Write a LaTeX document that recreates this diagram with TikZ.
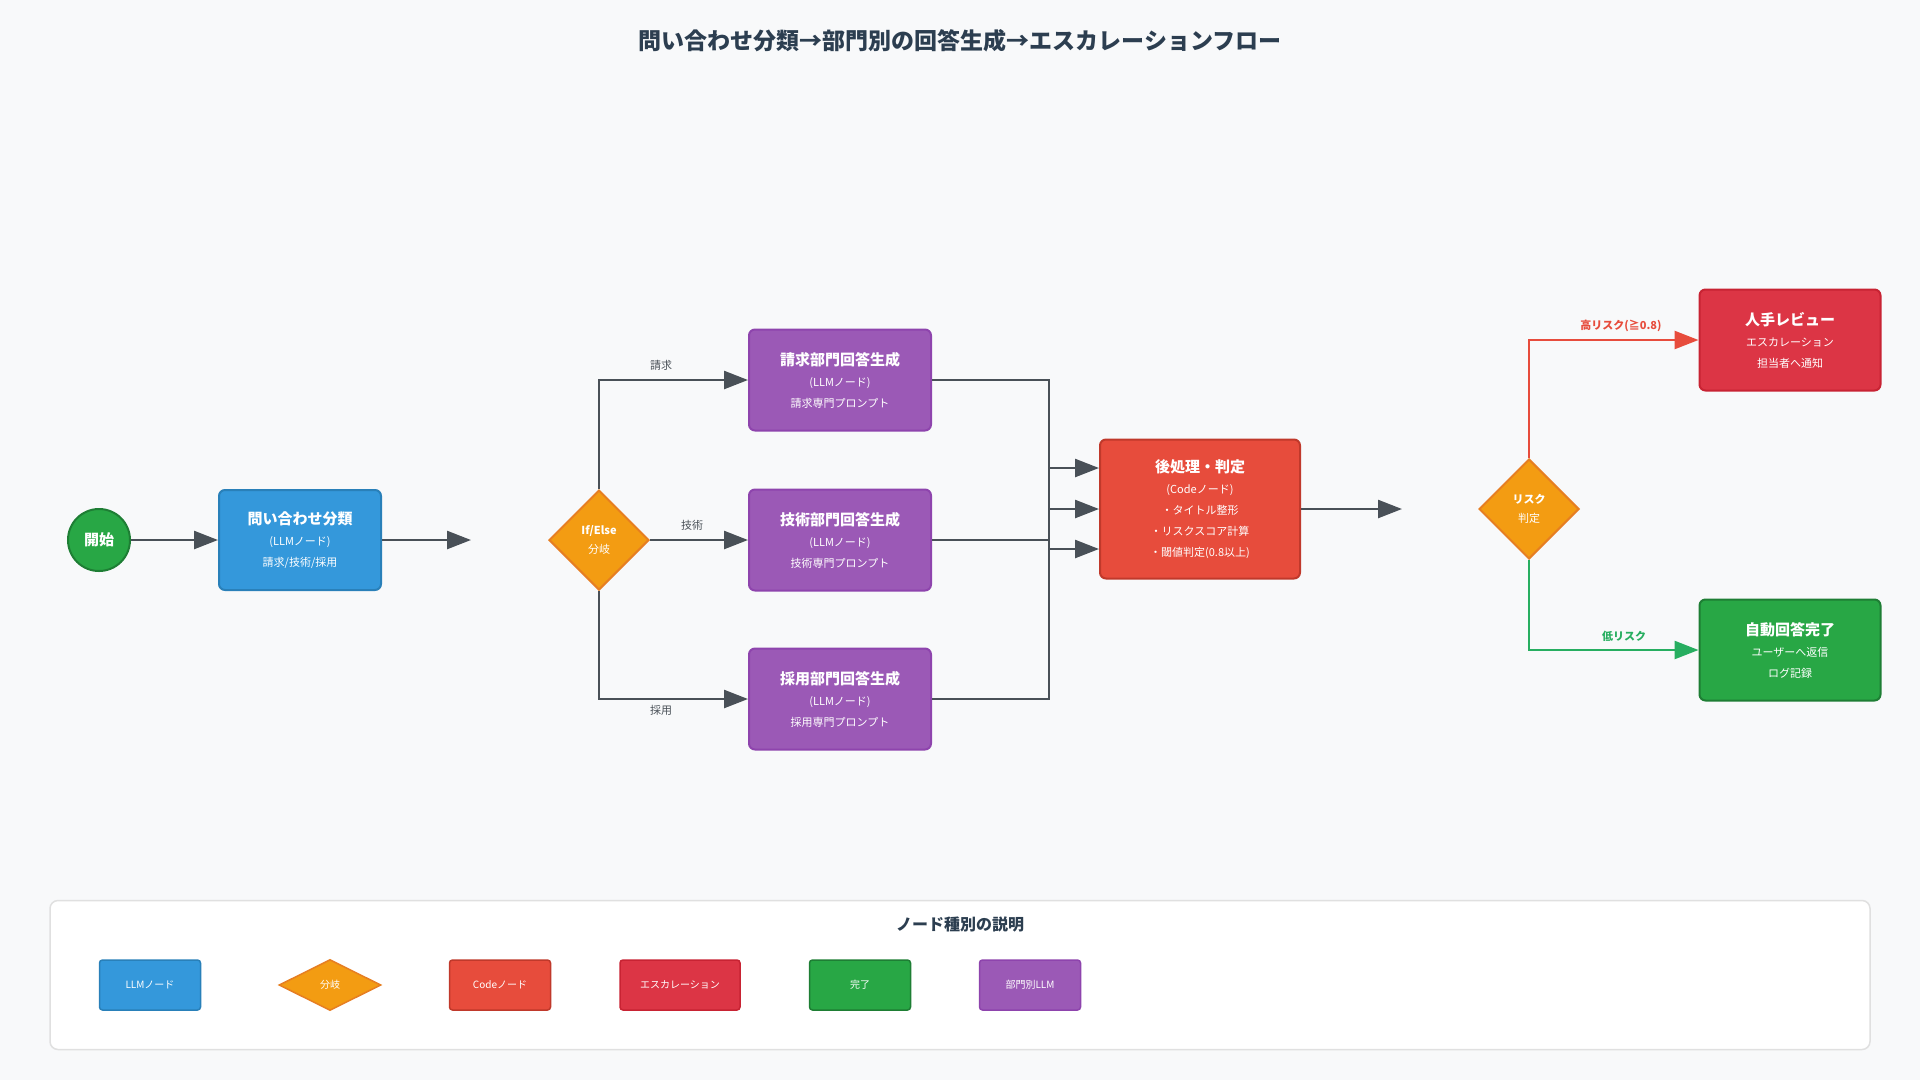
\documentclass[tikz,border=0pt]{standalone}
\usepackage{fontspec}
\setmainfont{Noto Sans CJK JP}
\usetikzlibrary{shapes.geometric,arrows.meta}
\definecolor{bg}{HTML}{F8F9FA}
\definecolor{cblue}{HTML}{3498DB}\definecolor{cblueD}{HTML}{2980B9}
\definecolor{cpur}{HTML}{9B59B6}\definecolor{cpurD}{HTML}{8E44AD}
\definecolor{cred}{HTML}{E74C3C}\definecolor{credD}{HTML}{C0392B}
\definecolor{ccrim}{HTML}{DC3545}\definecolor{ccrimD}{HTML}{C82333}
\definecolor{cgrn}{HTML}{28A745}\definecolor{cgrnD}{HTML}{1E7E34}
\definecolor{cora}{HTML}{F39C12}\definecolor{coraD}{HTML}{E67E22}
\definecolor{arr}{HTML}{495057}\definecolor{ttl}{HTML}{2C3E50}
\definecolor{hi}{HTML}{E74C3C}\definecolor{lo}{HTML}{27AE60}
\tikzset{
 x=1pt,y=-1pt,
 box/.style={rounded corners=6pt,line width=2pt,text=white,align=center,font=\fontsize{11}{21}\selectfont,inner sep=0pt},
 diam/.style={diamond,fill=cora,draw=coraD,line width=2pt,text=white,align=center,minimum width=100pt,minimum height=100pt,inner sep=0pt,aspect=1,font=\fontsize{11}{19}\selectfont},
 flow/.style={draw=arr,line width=2.5pt,-{Triangle[length=24pt,width=18pt]}},
 lab/.style={font=\fontsize{11}{13}\selectfont,text=arr},
 leg/.style={rounded corners=3pt,line width=1.5pt,text=white,font=\fontsize{10}{12}\selectfont,minimum height=50pt},
}
\newcommand{\bt}[1]{{\fontsize{15}{24}\selectfont\bfseries #1}}
\begin{document}
\begin{tikzpicture}
\fill[bg] (0,0) rectangle (1920,1080);
\useasboundingbox (0,0) rectangle (1920,1080);
\node[font=\fontsize{23}{26}\selectfont\bfseries,text=ttl] (title) at (960,41) {問い合わせ分類→部門別の回答生成→エスカレーションフロー};

\node[circle,fill=cgrn,draw=cgrnD,line width=2pt,minimum size=62pt,inner sep=0pt,text=white,font=\fontsize{15}{17}\selectfont\bfseries] (start) at (99,540) {開始};
\node[box,fill=cblue,draw=cblueD,minimum width=162pt,minimum height=100pt] (cls) at (300,540) {\bt{問い合わせ分類}\\(LLMノード)\\請求/技術/採用};
\coordinate (c1) at (471,540);
\node[diam] (br) at (599,540) {\textbf{If/Else}\\分岐};

\node[box,fill=cpur,draw=cpurD,minimum width=182pt,minimum height=101pt] (b1) at (840,380) {\bt{請求部門回答生成}\\(LLMノード)\\請求専門プロンプト};
\node[box,fill=cpur,draw=cpurD,minimum width=182pt,minimum height=101pt] (b2) at (840,540) {\bt{技術部門回答生成}\\(LLMノード)\\技術専門プロンプト};
\node[box,fill=cpur,draw=cpurD,minimum width=182pt,minimum height=101pt] (b3) at (840,699) {\bt{採用部門回答生成}\\(LLMノード)\\採用専門プロンプト};

\node[box,fill=cred,draw=credD,minimum width=200pt,minimum height=139pt] (post) at (1200,509) {\bt{後処理・判定}\\(Codeノード)\\・タイトル整形\\・リスクスコア計算\\・閾値判定(0.8以上)};
\coordinate (c2) at (1402,509);
\node[diam] (risk) at (1529,509) {\textbf{リスク}\\判定};

\node[box,fill=ccrim,draw=ccrimD,minimum width=181pt,minimum height=101pt] (hum) at (1790,340) {\bt{人手レビュー}\\エスカレーション\\担当者へ通知};
\node[box,fill=cgrn,draw=cgrnD,minimum width=181pt,minimum height=101pt] (auto) at (1790,650) {\bt{自動回答完了}\\ユーザーへ返信\\ログ記録};

\draw[flow] (start) -- (cls);
\draw[flow] (cls) -- (c1);
\draw[flow] (br.north) |- (b1.west);
\draw[flow] (br.east) -- (b2.west);
\draw[flow] (br.south) |- (b3.west);
\node[lab] (l1) at (661,365) {請求};
\node[lab] (l2) at (692,525) {技術};
\node[lab] (l3) at (661,710) {採用};
\draw[flow] (b1.east) -- (1049,380) |- ([yshift=-40pt]post.west);
\draw[flow] (b2.east) -- (1049,540) |- (post.west);
\draw[flow] (b3.east) -- (1049,699) |- ([yshift=41pt]post.west);
\draw[flow] (post) -- (c2);
\draw[flow,draw=hi] (risk.north) |- (hum.west);
\draw[flow,draw=lo] (risk.south) |- (auto.west);
\node[font=\fontsize{11}{13}\selectfont\bfseries,text=hi] (l4) at (1621,326) {高リスク(≧0.8)};
\node[font=\fontsize{11}{13}\selectfont\bfseries,text=lo] (l5) at (1624,636) {低リスク};

\node[draw=black!12,fill=white,rounded corners=8pt,line width=1.5pt,minimum width=1820pt,minimum height=149pt] (legend) at (960,975) {};
\node[font=\fontsize{16}{18}\selectfont\bfseries,text=ttl] (lt) at (960,924) {ノード種別の説明};
\node[leg,fill=cblue,draw=cblueD,minimum width=101pt] (g1) at (150,985) {LLMノード};
\node[diamond,aspect=2,fill=cora,draw=coraD,line width=1.5pt,minimum width=102pt,minimum height=51pt,inner sep=0pt,text=white,font=\fontsize{10}{12}\selectfont] (g2) at (330,985) {分岐};
\node[leg,fill=cred,draw=credD,minimum width=101pt] (g3) at (500,985) {Codeノード};
\node[leg,fill=ccrim,draw=ccrimD,minimum width=120pt] (g4) at (680,985) {エスカレーション};
\node[leg,fill=cgrn,draw=cgrnD,minimum width=101pt] (g5) at (860,985) {完了};
\node[leg,fill=cpur,draw=cpurD,minimum width=101pt] (g6) at (1030,985) {部門別LLM};
\end{tikzpicture}
\end{document}
